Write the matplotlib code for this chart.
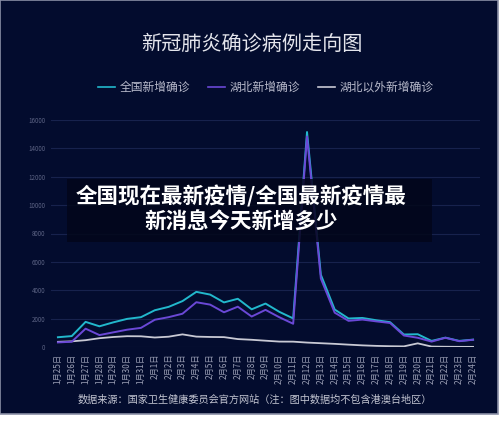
import matplotlib
matplotlib.use('Agg')
import matplotlib.pyplot as plt
from matplotlib.patches import Rectangle
from matplotlib.lines import Line2D

plt.rcParams['font.family'] = ['Noto Sans CJK SC', 'DejaVu Sans']

# --- dados ---
datas = ['1月25日', '1月26日', '1月27日', '1月28日', '1月29日', '1月30日', '1月31日',
         '2月1日', '2月2日', '2月3日', '2月4日', '2月5日', '2月6日', '2月7日', '2月8日',
         '2月9日', '2月10日', '2月11日', '2月12日', '2月13日', '2月14日', '2月15日',
         '2月16日', '2月17日', '2月18日', '2月19日', '2月20日', '2月21日', '2月22日',
         '2月23日', '2月24日']
nacional = [688, 769, 1771, 1459, 1737, 1982, 2102, 2590, 2829, 3235, 3887, 3694, 3143,
            3399, 2656, 3062, 2478, 2015, 15152, 5090, 2641, 2009, 2048, 1886, 1749,
            880, 900, 430, 660, 430, 520]
hubei = [323, 371, 1291, 840, 1032, 1220, 1347, 1921, 2103, 2345, 3156, 2987, 2447,
         2841, 2147, 2618, 2097, 1638, 14840, 4823, 2420, 1843, 1933, 1807, 1693,
         810, 650, 380, 650, 410, 510]
fora_hubei = [365, 398, 480, 619, 705, 762, 755, 669, 726, 890, 731, 707, 696, 558, 509,
              444, 381, 377, 312, 267, 221, 166, 115, 79, 56, 45, 258, 31, 18, 11, 9]
yticks = [0, 2000, 4000, 6000, 8000, 10000, 12000, 14000, 16000]
series_nomes = ['全国新增确诊', '湖北新增确诊', '湖北以外新增确诊']

BG = '#030c2e'
COR_NAC = '#22b8cc'
COR_HUB = '#6a48d6'
COR_FORA = '#c8c9d4'

fig = plt.figure(figsize=(5, 4.21), dpi=100)
fig.patch.set_facecolor('white')

# fundo escuro com moldura
fig.patches.append(Rectangle((0, 7 / 421), 498 / 500, 1 - 7 / 421, transform=fig.transFigure,
                             facecolor=BG, edgecolor='#8a8fa6', linewidth=1.2, zorder=-5))

ax = fig.add_axes([51 / 500, 74 / 421, 429 / 500, 227 / 421])
ax.set_zorder(1)
ax.set_facecolor(BG)
x = list(range(len(datas)))
ax.plot(x, fora_hubei, color=COR_FORA, lw=1.3, zorder=3)
ax.plot(x, nacional, color=COR_NAC, lw=1.4, zorder=4)
ax.plot(x, hubei, color=COR_HUB, lw=1.4, zorder=5)

ax.set_xlim(-0.5, len(datas) - 0.5)
ax.set_ylim(0, 16000)
ax.set_yticks(yticks)
ax.set_yticklabels([str(v) for v in yticks], fontsize=4.5, color='#5c6384')
ax.set_xticks(x)
ax.set_xticklabels(datas, rotation=90, fontsize=5.9, color='#9a9eb4')
ax.tick_params(axis='y', length=0, pad=4)
ax.tick_params(axis='x', length=0, pad=5)
ax.grid(axis='y', color='#17224d', lw=0.8)
ax.set_axisbelow(True)
for s in ax.spines.values():
    s.set_visible(False)

# título e legenda
fig.text(252 / 500, 1 - 44 / 421, '新冠肺炎确诊病例走向图', ha='center', va='center',
         fontsize=14.5, color='#e4e5ec')
leg_x = [98, 208, 318]
for xi, nome, cor in zip(leg_x, series_nomes, [COR_NAC, COR_HUB, COR_FORA]):
    fig.lines.append(Line2D([xi / 500, (xi + 17) / 500], [1 - 87 / 421] * 2,
                            transform=fig.transFigure, color=cor, lw=1.2))
    fig.text((xi + 22) / 500, 1 - 87 / 421, nome, ha='left', va='center',
             fontsize=8.5, color='#b8bacb')

# fonte
fig.text(255 / 500, 1 - 400 / 421, '数据来源：国家卫生健康委员会官方网站（注：图中数据均不包含港澳台地区）',
         ha='center', va='center', fontsize=7.3, color='#c4c6d2')

# faixa de texto sobreposta (acima do gráfico)
ov = fig.add_axes([0, 0, 1, 1], zorder=10)
ov.set_axis_off()
ov.patch.set_visible(False)
ov.set_xlim(0, 500)
ov.set_ylim(421, 0)
ov.add_patch(Rectangle((67, 179), 365, 63, facecolor='#02061a', edgecolor='none', alpha=0.85))
ov.text(241, 196, '全国现在最新疫情/全国最新疫情最', ha='center', va='center',
        fontsize=15.5, fontweight='bold', color='white')
ov.text(241, 222, '新消息今天新增多少', ha='center', va='center',
        fontsize=15.5, fontweight='bold', color='white')

fig.savefig('out.png', dpi=100, facecolor=fig.get_facecolor())
